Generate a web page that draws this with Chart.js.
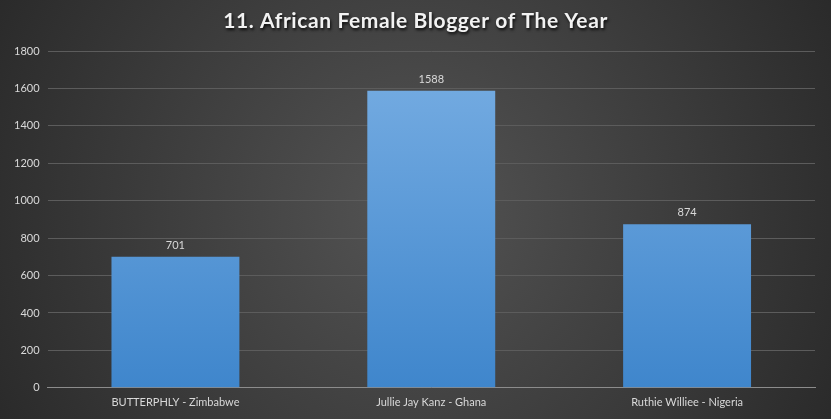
<!DOCTYPE html>
<html>
<head>
<meta charset="utf-8">
<script src="https://cdn.jsdelivr.net/npm/chart.js@4/dist/chart.umd.min.js"></script>
<style>
  html, body { margin: 0; padding: 0; background: #3a3a3a; }
  #wrap { width: 831px; height: 419px; }
</style>
</head>
<body>
<div id="wrap"><canvas id="bloggerChart" width="831" height="419"></canvas></div>
<script>
const categories = ['BUTTERPHLY - Zimbabwe', 'Jullie Jay Kanz - Ghana', 'Ruthie Williee - Nigeria'];
const votes = [701, 1588, 874];
const yTicks = [0, 200, 400, 600, 800, 1000, 1200, 1400, 1600, 1800];
const chartTitle = '11. African Female Blogger of The Year';

const FONT = 'Lato, "Liberation Sans", sans-serif';

// dark radial backdrop, lighter in the middle
const backdrop = {
  id: 'backdrop',
  beforeDraw(chart) {
    const { ctx, width, height } = chart;
    const g = ctx.createRadialGradient(width / 2, height / 2, 20, width / 2, height / 2, width * 0.62);
    g.addColorStop(0, '#525252');
    g.addColorStop(1, '#262626');
    ctx.save();
    ctx.fillStyle = g;
    ctx.fillRect(0, 0, width, height);
    ctx.restore();
  }
};

// title with a drop shadow (space is reserved by layout padding)
const shadowTitle = {
  id: 'shadowTitle',
  afterDraw(chart) {
    const { ctx, width } = chart;
    ctx.save();
    ctx.font = 'bold 21px ' + FONT;
    ctx.fillStyle = '#f2f2f2';
    ctx.textAlign = 'center';
    ctx.textBaseline = 'middle';
    ctx.shadowColor = 'rgba(0,0,0,0.85)';
    ctx.shadowOffsetX = 1;
    ctx.shadowOffsetY = 2;
    ctx.shadowBlur = 3;
    if ('letterSpacing' in ctx) ctx.letterSpacing = '0.6px';
    ctx.fillText(chartTitle, width / 2, 21);
    ctx.restore();
  }
};

// value labels above each bar
const valueLabels = {
  id: 'valueLabels',
  afterDatasetsDraw(chart) {
    const { ctx } = chart;
    const meta = chart.getDatasetMeta(0);
    ctx.save();
    ctx.font = '11px ' + FONT;
    ctx.fillStyle = '#d9d9d9';
    ctx.textAlign = 'center';
    ctx.textBaseline = 'bottom';
    meta.data.forEach((bar, i) => {
      ctx.fillText(votes[i], bar.x, bar.y - 6);
    });
    ctx.restore();
  }
};

const ctx = document.getElementById('bloggerChart').getContext('2d');
new Chart(ctx, {
  type: 'bar',
  data: {
    labels: categories,
    datasets: [{
      data: votes,
      backgroundColor: c => {
        const area = c.chart.chartArea;
        if (!area) return '#5b9bd5';
        const g = c.chart.ctx.createLinearGradient(0, area.top, 0, area.bottom);
        g.addColorStop(0, '#78aee3');
        g.addColorStop(1, '#3f86cc');
        return g;
      },
      borderWidth: 0,
      categoryPercentage: 1,
      barPercentage: 0.5
    }]
  },
  options: {
    responsive: false,
    animation: false,
    layout: { padding: { left: 6, right: 16, top: 51, bottom: 2 } },
    plugins: {
      legend: { display: false },
      tooltip: { enabled: false },
      title: { display: false }
    },
    scales: {
      x: {
        grid: { display: false, drawTicks: false },
        border: { display: true, color: '#8c8c8c', width: 1 },
        ticks: { color: '#d9d9d9', font: { family: FONT, size: 11 }, padding: 8 }
      },
      y: {
        min: 0,
        max: 1800,
        afterBuildTicks: axis => { axis.ticks = yTicks.map(v => ({ value: v })); },
        grid: { color: '#5c5c5c', lineWidth: 1, drawTicks: false },
        border: { display: false },
        ticks: { color: '#d9d9d9', font: { family: FONT, size: 11 }, padding: 8, callback: v => String(v) }
      }
    }
  },
  plugins: [backdrop, valueLabels, shadowTitle]
});
</script>
</body>
</html>
